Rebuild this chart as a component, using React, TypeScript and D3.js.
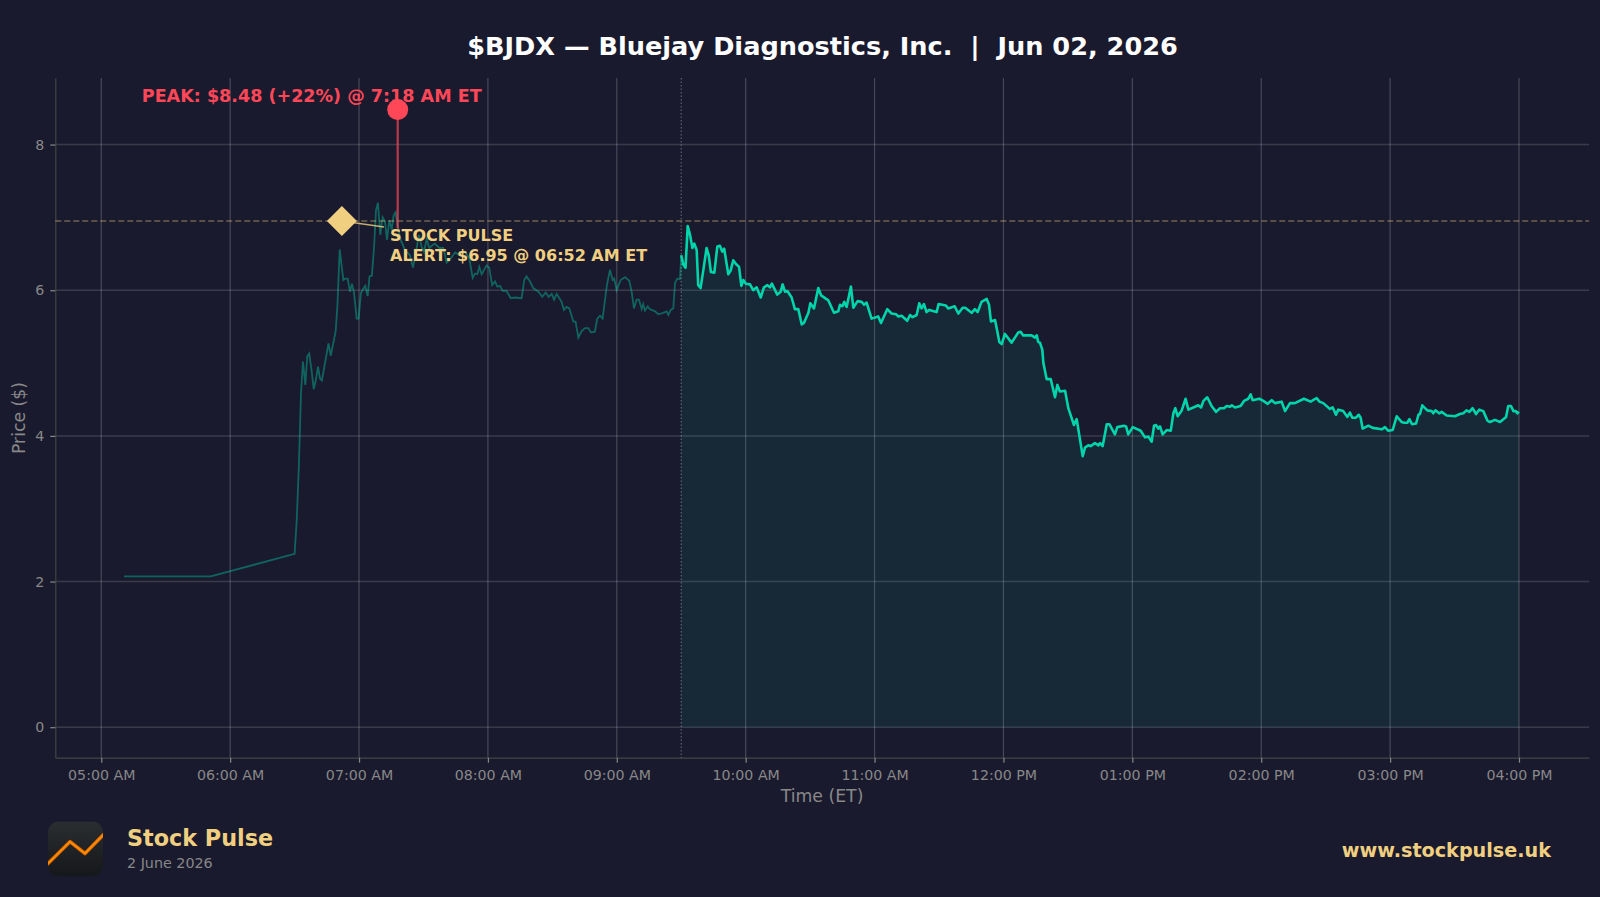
import React, { useEffect, useRef } from "react";
import * as d3 from "d3";

// minutes after 05:00 ET
const preMinutes = [10.6, 51, 90, 91, 92, 93, 93.9, 95, 95.9, 96.8, 97.9, 98.9, 99.9, 100.9, 101.8, 102.7, 104.1, 105.8, 106.8, 108, 109.1, 109.9, 110.3, 111, 112.7, 113.6, 114.7, 115.8, 116.7, 117.6, 118.9, 119.8, 120.9, 122, 122.9, 124, 124.9, 126, 127, 127.9, 128.8, 129.9, 131, 132.1, 133, 134.1, 135.2, 136.1, 137, 138, 139.4, 141.4, 143.7, 145.1, 146, 147.9, 149.1, 150.2, 151.5, 152.7, 154.3, 155.3, 157.4, 159.2, 160.8, 162.3, 164.7, 167, 169.3, 171.3, 172.9, 174, 175.1, 176, 177.1, 178.2, 179.4, 180.6, 182, 183.3, 184.4, 185.6, 186.9, 188.7, 190.6, 192.6, 195.7, 196.9, 198, 199.6, 201.1, 203.5, 205.3, 206.9, 208.3, 209.7, 210.8, 212, 214.3, 215.4, 216.6, 217.9, 219.8, 220.8, 222.1, 223.6, 225.2, 226.7, 228, 229.8, 230.9, 232.2, 233.4, 235.3, 236.8, 238.1, 238.8, 239.9, 241.8, 243.8, 245.8, 246.9, 248, 249.2, 250.3, 251.6, 252.3, 253.1, 254.4, 255.4, 257.8, 259.3, 261.6, 263.2, 264, 265.1, 266.3, 267.1, 268.2, 269.4, 270];
const prePrices = [2.07, 2.07, 2.38, 2.84, 3.6, 4.6, 5.02, 4.7, 5.09, 5.13, 4.9, 4.64, 4.77, 4.95, 4.79, 4.76, 4.99, 5.27, 5.1, 5.27, 5.43, 5.77, 6.05, 6.56, 6.14, 6.16, 6.16, 5.98, 6.09, 5.98, 5.61, 5.61, 5.96, 6.02, 6.06, 5.92, 6.19, 6.2, 6.6, 7.1, 7.2, 6.76, 7.0, 6.94, 6.69, 6.96, 6.83, 7.03, 7.07, 6.88, 6.69, 6.55, 6.48, 6.31, 6.44, 6.76, 6.6, 6.53, 6.7, 6.58, 6.62, 6.64, 6.58, 6.58, 6.38, 6.42, 6.52, 6.48, 6.53, 6.44, 6.17, 6.23, 6.22, 6.32, 6.22, 6.28, 6.34, 6.31, 6.07, 6.12, 6.05, 6.06, 5.99, 5.99, 5.89, 5.9, 5.89, 6.14, 6.19, 6.12, 6.03, 5.98, 5.91, 5.97, 5.91, 5.95, 5.87, 5.95, 5.84, 5.73, 5.77, 5.75, 5.57, 5.57, 5.35, 5.44, 5.48, 5.48, 5.42, 5.43, 5.61, 5.65, 5.61, 6.05, 6.28, 6.14, 6.16, 6.0, 6.14, 6.18, 6.13, 5.98, 5.75, 5.87, 5.87, 5.74, 5.81, 5.72, 5.78, 5.74, 5.71, 5.67, 5.69, 5.71, 5.66, 5.73, 5.75, 6.1, 6.16, 6.15, 6.48];

const regMinutes = [270, 271, 272, 273, 274.1, 275.2, 276.1, 277.2, 277.9, 279, 280.3, 281.8, 282.8, 283.8, 285.4, 286.8, 288, 289.1, 290, 291.9, 293, 294.2, 295.5, 296.9, 298, 298.9, 300.1, 302, 303.5, 305.1, 307, 308.5, 310.1, 311.3, 312.2, 314.7, 316.3, 317.2, 318.3, 319.4, 321.4, 322.9, 324.5, 326.1, 327.1, 329.2, 330.1, 331.8, 333.8, 335.1, 338.5, 341.1, 343.1, 343.9, 345, 345.9, 347, 349, 350.1, 352.1, 354, 355.1, 356.3, 358.6, 361.7, 363, 365.9, 367.9, 370, 371.1, 372.6, 375.2, 376.5, 377.7, 379.6, 380.8, 381.9, 383, 384.2, 385.5, 388.9, 389.8, 393.2, 394.3, 397.3, 399, 401, 402.2, 405.2, 406.7, 408, 409.8, 412.2, 413.3, 414.2, 416.1, 418.1, 419.2, 420.7, 423.8, 426.9, 428, 429.2, 433.1, 434.7, 435.5, 436.2, 437, 438.1, 438.6, 440.1, 442, 444, 445.1, 446.3, 448.7, 450.2, 452.8, 454.1, 456.9, 458, 459.5, 460.6, 462.6, 464.2, 465, 466.2, 468.1, 469.3, 471.9, 473, 476.1, 477.1, 478.1, 480.2, 483.9, 485.9, 487.5, 489, 490.1, 491, 492.1, 492.9, 494.1, 496, 497.9, 499.1, 500, 501.1, 503, 504.8, 506.1, 508.4, 510.7, 512, 513.1, 514.9, 516.9, 519, 520.8, 522.7, 523.9, 525.5, 526.3, 527.8, 530.4, 532, 534, 535.1, 536, 539.1, 541, 543, 544.9, 546.4, 549.5, 551.1, 553.4, 555.7, 559.9, 563, 565.8, 567.1, 568.9, 572, 573.3, 574.8, 575.9, 578.2, 580.1, 581.3, 582.4, 584.1, 585.4, 586.3, 587.2, 589.9, 591.9, 596.1, 597.6, 599.2, 601.2, 603.1, 605.4, 606.5, 608, 609, 610.2, 612.1, 613.2, 613.9, 615, 617.3, 619.4, 620.1, 621.1, 622.9, 624, 626.3, 630.2, 632.5, 634.1, 635.6, 636.9, 638.4, 640, 641.5, 643.4, 645.3, 646.5, 648.8, 651.2, 654, 655, 656.3, 657.4, 658.6, 659.2, 660];
const regPrices = [6.48, 6.35, 6.31, 6.88, 6.76, 6.58, 6.64, 6.55, 6.07, 6.03, 6.28, 6.58, 6.48, 6.25, 6.24, 6.6, 6.61, 6.53, 6.57, 6.22, 6.27, 6.41, 6.36, 6.32, 6.06, 6.14, 6.09, 6.08, 6.0, 6.04, 5.9, 6.04, 6.07, 6.04, 6.09, 5.94, 5.98, 6.08, 5.98, 5.99, 5.9, 5.74, 5.74, 5.53, 5.55, 5.69, 5.82, 5.75, 6.03, 5.93, 5.86, 5.69, 5.71, 5.8, 5.78, 5.84, 5.77, 6.05, 5.76, 5.85, 5.84, 5.8, 5.83, 5.61, 5.64, 5.55, 5.74, 5.68, 5.67, 5.64, 5.65, 5.58, 5.66, 5.63, 5.66, 5.82, 5.75, 5.81, 5.7, 5.73, 5.7, 5.81, 5.79, 5.75, 5.78, 5.68, 5.76, 5.76, 5.69, 5.74, 5.7, 5.84, 5.88, 5.8, 5.57, 5.59, 5.29, 5.26, 5.4, 5.28, 5.42, 5.43, 5.38, 5.38, 5.35, 5.38, 5.29, 5.28, 5.18, 5.0, 4.78, 4.78, 4.53, 4.7, 4.61, 4.62, 4.38, 4.15, 4.23, 3.72, 3.84, 3.87, 3.86, 3.9, 3.87, 3.9, 3.86, 4.16, 4.16, 4.02, 4.12, 4.14, 4.13, 4.02, 4.12, 4.07, 3.98, 3.99, 3.92, 4.14, 4.15, 4.1, 4.13, 4.02, 4.08, 4.07, 4.31, 4.38, 4.27, 4.35, 4.51, 4.36, 4.39, 4.42, 4.39, 4.48, 4.53, 4.41, 4.33, 4.38, 4.38, 4.41, 4.4, 4.42, 4.39, 4.41, 4.48, 4.51, 4.57, 4.49, 4.51, 4.48, 4.44, 4.49, 4.45, 4.47, 4.34, 4.45, 4.45, 4.51, 4.47, 4.52, 4.47, 4.45, 4.37, 4.39, 4.29, 4.36, 4.34, 4.26, 4.32, 4.25, 4.25, 4.29, 4.25, 4.1, 4.14, 4.11, 4.09, 4.12, 4.07, 4.08, 4.27, 4.19, 4.18, 4.18, 4.23, 4.16, 4.17, 4.29, 4.3, 4.42, 4.35, 4.34, 4.31, 4.35, 4.31, 4.33, 4.28, 4.27, 4.3, 4.31, 4.35, 4.33, 4.38, 4.3, 4.36, 4.34, 4.21, 4.19, 4.22, 4.19, 4.26, 4.41, 4.41, 4.34, 4.34, 4.31, 4.33];

const tickMinutes = [0, 60, 120, 180, 240, 300, 360, 420, 480, 540, 600, 660];
const tickLabels = ["05:00 AM", "06:00 AM", "07:00 AM", "08:00 AM", "09:00 AM", "10:00 AM", "11:00 AM", "12:00 PM", "01:00 PM", "02:00 PM", "03:00 PM", "04:00 PM"];
const priceTicks = [0, 2, 4, 6, 8];

const alertMinute = 112;
const alertPrice = 6.95;
const peakMinute = 138;
const peakPrice = 8.48;
const peakStemEnd = 6.85;
const openMinute = 270;

const BG = "#1a1a2e";
const TEAL = "#00d4aa";
const GOLD = "#f0d080";
const RED = "#ff4757";
const GREY = "#888888";
const FONT = "'DejaVu Sans', sans-serif";

const W = 1600, H = 897;
const left = 55.3, right = 1589, top = 78, bottom = 757.7;

export default function App() {
    const ref = useRef<SVGSVGElement | null>(null);

    useEffect(() => {
        if (ref.current == null) return;
        const svg = d3.select(ref.current);
        svg.selectAll("*").remove();

        const x = d3.scaleLinear().domain([-21.4, 692.6]).range([left, right]);
        const y = d3.scaleLinear().domain([-0.4188, 8.914]).range([bottom, top]);

        const pre = preMinutes.map((m, i) => [m, prePrices[i]] as [number, number]);
        const reg = regMinutes.map((m, i) => [m, regPrices[i]] as [number, number]);

        const line = d3.line<[number, number]>().x(d => x(d[0])).y(d => y(d[1]));
        const area = d3.area<[number, number]>().x(d => x(d[0])).y0(y(0)).y1(d => y(d[1]));

        // grid
        svg.append("g").selectAll("line").data(tickMinutes).enter().append("line")
            .attr("x1", d => x(d)).attr("x2", d => x(d))
            .attr("y1", top).attr("y2", bottom)
            .attr("stroke", "#ffffff").attr("stroke-opacity", 0.2).attr("stroke-width", 1.2);
        svg.append("g").selectAll("line").data(priceTicks).enter().append("line")
            .attr("x1", left).attr("x2", right)
            .attr("y1", d => y(d)).attr("y2", d => y(d))
            .attr("stroke", "#ffffff").attr("stroke-opacity", 0.14).attr("stroke-width", 1.5);

        // axes
        const xAxis = svg.append("g")
            .attr("transform", "translate(0," + bottom + ")")
            .call(d3.axisBottom(x).tickValues(tickMinutes).tickFormat((d, i) => tickLabels[i]).tickSizeInner(5).tickSizeOuter(0).tickPadding(7));
        const yAxis = svg.append("g")
            .attr("transform", "translate(" + left + ",0)")
            .call(d3.axisLeft(y).tickValues(priceTicks).tickFormat(d => String(d)).tickSizeInner(5).tickSizeOuter(0).tickPadding(6));
        [xAxis, yAxis].forEach(a => {
            a.select(".domain").attr("stroke", "#444444").attr("stroke-width", 1.2);
            a.selectAll(".tick line").attr("stroke", GREY).attr("stroke-width", 1.2);
            a.selectAll(".tick text").attr("fill", GREY).style("font-family", FONT).style("font-size", "14.2px");
        });

        // session fill and lines
        svg.append("path").attr("d", area(reg)).attr("fill", TEAL).attr("fill-opacity", 0.08);
        svg.append("path").attr("d", line(pre)).attr("fill", "none")
            .attr("stroke", TEAL).attr("stroke-opacity", 0.4).attr("stroke-width", 1.8);
        svg.append("line")
            .attr("x1", x(openMinute)).attr("x2", x(openMinute)).attr("y1", top).attr("y2", bottom)
            .attr("stroke", "#ffffff").attr("stroke-opacity", 0.3).attr("stroke-width", 1.2).attr("stroke-dasharray", "1.5 2");
        svg.append("line")
            .attr("x1", left).attr("x2", right).attr("y1", y(alertPrice)).attr("y2", y(alertPrice))
            .attr("stroke", GOLD).attr("stroke-opacity", 0.4).attr("stroke-width", 1.5).attr("stroke-dasharray", "6 3");
        svg.append("path").attr("d", line(reg)).attr("fill", "none")
            .attr("stroke", TEAL).attr("stroke-width", 2.6).attr("stroke-linejoin", "round");

        // peak
        svg.append("line")
            .attr("x1", x(peakMinute)).attr("x2", x(peakMinute)).attr("y1", y(peakPrice)).attr("y2", y(peakStemEnd))
            .attr("stroke", RED).attr("stroke-opacity", 0.7).attr("stroke-width", 2.2);
        svg.append("circle").attr("cx", x(peakMinute)).attr("cy", y(peakPrice)).attr("r", 10.5).attr("fill", RED);
        svg.append("text").attr("x", 141.8).attr("y", 101.5)
            .attr("fill", RED).style("font", "bold 17.55px " + FONT)
            .text("PEAK: $8.48 (+22%) @ 7:18 AM ET");

        // alert marker
        svg.append("line")
            .attr("x1", x(alertMinute)).attr("y1", y(alertPrice)).attr("x2", 384).attr("y2", 227)
            .attr("stroke", GOLD).attr("stroke-opacity", 0.8).attr("stroke-width", 1.6);
        svg.append("path")
            .attr("transform", "translate(" + x(alertMinute) + "," + y(alertPrice) + ")")
            .attr("d", "M0,-15L15,0L0,15L-15,0Z").attr("fill", GOLD);
        ["STOCK PULSE", "ALERT: $6.95 @ 06:52 AM ET"].forEach((t, i) => {
            svg.append("text").attr("x", 390).attr("y", 241 + i * 19.5)
                .attr("fill", GOLD).style("font", "bold 16px " + FONT).text(t);
        });

        // titles
        svg.append("text").attr("x", 822.5).attr("y", 55).attr("text-anchor", "middle")
            .attr("fill", "#ffffff").style("font", "bold 25.6px " + FONT).style("white-space", "pre")
            .text("$BJDX \u2014 Bluejay Diagnostics, Inc.  |  Jun 02, 2026");
        svg.append("text").attr("x", 822).attr("y", 802).attr("text-anchor", "middle")
            .attr("fill", GREY).style("font", "17.3px " + FONT).text("Time (ET)");
        svg.append("text").attr("transform", "translate(25,418) rotate(-90)").attr("text-anchor", "middle")
            .attr("fill", GREY).style("font", "17.3px " + FONT).text("Price ($)");

        // footer logo
        const defs = svg.append("defs");
        const grad = defs.append("linearGradient").attr("id", "logoBg").attr("x1", 0).attr("y1", 0).attr("x2", 0).attr("y2", 1);
        grad.append("stop").attr("offset", "0%").attr("stop-color", "#2b2e31");
        grad.append("stop").attr("offset", "100%").attr("stop-color", "#15171a");
        defs.append("clipPath").attr("id", "logoClip").append("rect")
            .attr("x", 48).attr("y", 821.5).attr("width", 55).attr("height", 55).attr("rx", 11);
        const logo = svg.append("g").attr("clip-path", "url(#logoClip)");
        logo.append("rect").attr("x", 48).attr("y", 821.5).attr("width", 55).attr("height", 55).attr("fill", "url(#logoBg)");
        const icon = "M46,865.5L70,841.7L85,853.5L105,833";
        logo.append("path").attr("d", icon).attr("fill", "none").attr("stroke", "#d96400").attr("stroke-width", 3.6).attr("stroke-linejoin", "round");
        logo.append("path").attr("d", icon).attr("fill", "none").attr("stroke", "#ff8c00").attr("stroke-width", 1.8).attr("stroke-linejoin", "round");

        svg.append("text").attr("x", 127).attr("y", 846).attr("fill", GOLD)
            .style("font", "bold 22.3px " + FONT).text("Stock Pulse");
        svg.append("text").attr("x", 127).attr("y", 867.5).attr("fill", GREY)
            .style("font", "14.3px " + FONT).text("2 June 2026");
        svg.append("text").attr("x", 1551).attr("y", 856.5).attr("text-anchor", "end").attr("fill", GOLD)
            .style("font", "bold 19.2px " + FONT).text("www.stockpulse.uk");
    }, []);

    return (
        <svg
            ref={ref}
            width={W}
            height={H}
            style={{ position: "absolute", left: 0, top: 0, display: "block", background: BG }}
        ></svg>
    );
}
